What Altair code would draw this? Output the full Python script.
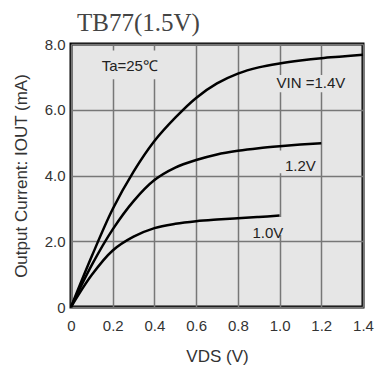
import altair as alt
import pandas as pd

# ---- data ----
vds_14 = [0, 0.1, 0.2, 0.3, 0.4, 0.5, 0.6, 0.7, 0.8, 0.9, 1.0, 1.1, 1.2, 1.3, 1.4]
iout_14 = [0, 1.55, 2.98, 4.12, 5.05, 5.76, 6.36, 6.8, 7.1, 7.29, 7.41, 7.5, 7.57, 7.62, 7.67]

vds_12 = [0, 0.1, 0.2, 0.3, 0.4, 0.5, 0.6, 0.7, 0.8, 0.9, 1.0, 1.1, 1.2]
iout_12 = [0, 1.28, 2.36, 3.22, 3.86, 4.24, 4.47, 4.64, 4.75, 4.83, 4.89, 4.94, 4.98]

vds_10 = [0, 0.1, 0.2, 0.3, 0.4, 0.5, 0.6, 0.7, 0.8, 0.9, 1.0]
iout_10 = [0, 0.98, 1.72, 2.14, 2.4, 2.53, 2.61, 2.66, 2.7, 2.74, 2.78]

x_ticks = [0, 0.2, 0.4, 0.6, 0.8, 1.0, 1.2, 1.4]
y_ticks = [0, 1, 2, 3, 4, 5, 6, 7, 8]

# annotations (data coordinates)
label_text = ["Ta=25℃", "VIN =1.4V", "1.2V", "1.0V"]
label_x = [0.282, 1.15, 1.10, 0.944]
label_y = [7.34, 6.81, 4.29, 2.26]
mask_x = [0.067, 0.937, 0.98, 0.855]
mask_x2 = [0.487, 1.366, 1.19, 1.02]
mask_y = [6.93, 6.53, 4.07, 2.19]
mask_y2 = [7.8, 7.06, 4.76, 2.74]

rows = []
for series, xs, ys in [("1.4V", vds_14, iout_14), ("1.2V", vds_12, iout_12), ("1.0V", vds_10, iout_10)]:
    for a, b in zip(xs, ys):
        rows.append({"series": series, "vds": a, "iout": b})
curves = pd.DataFrame(rows)
labels = pd.DataFrame({"text": label_text, "x": label_x, "y": label_y})
masks = pd.DataFrame({"x": mask_x, "x2": mask_x2, "y": mask_y, "y2": mask_y2})

BG = "#e6e6e6"
xscale = alt.Scale(domain=[0, 1.4], nice=False)
yscale = alt.Scale(domain=[0, 8], nice=False)

xaxis = alt.Axis(
    values=x_ticks, title="VDS (V)", grid=True, gridColor="#777", gridWidth=1.5,
    ticks=False, domain=False, labelFlush=False, labelOverlap=False,
    labelExpr="datum.value == 0 ? '0' : format(datum.value, '.1f')",
    labelFont="Liberation Sans", labelFontSize=15, labelColor="#333", labelPadding=11,
    titleFont="Liberation Sans", titleFontSize=17, titleFontWeight="normal",
    titleColor="#333", titlePadding=15,
)
yaxis = alt.Axis(
    values=y_ticks, title="Output Current: IOUT (mA)", grid=True, gridColor="#777",
    gridWidth=1.5, ticks=False, domain=False, labelFlush=False, labelOverlap=False,
    labelExpr="datum.value % 2 == 0 ? (datum.value == 0 ? '0' : format(datum.value, '.1f')) : ''",
    labelFont="Liberation Sans", labelFontSize=15, labelColor="#333", labelPadding=6,
    titleFont="Liberation Sans", titleFontSize=17, titleFontWeight="normal",
    titleColor="#333", titlePadding=14,
)

lines = alt.Chart(curves).mark_line(color="black", strokeWidth=2.5, interpolate="catmull-rom").encode(
    x=alt.X("vds:Q", scale=xscale, axis=xaxis),
    y=alt.Y("iout:Q", scale=yscale, axis=yaxis),
    detail="series:N",
)

mask = alt.Chart(masks).mark_rect(color=BG).encode(
    x=alt.X("x:Q", scale=xscale), x2="x2:Q",
    y=alt.Y("y:Q", scale=yscale), y2="y2:Q",
)

text = alt.Chart(labels).mark_text(
    font="Liberation Sans", fontSize=15, color="#222", baseline="middle", align="center"
).encode(
    x=alt.X("x:Q", scale=xscale),
    y=alt.Y("y:Q", scale=yscale),
    text="text:N",
)

chart = alt.layer(mask, lines, text).properties(
    width=292, height=263,
    background="white",
    title=alt.TitleParams(
        "TB77(1.5V)", anchor="start", frame="group", font="Liberation Serif",
        fontSize=25, fontWeight="normal", color="#444", dx=6, offset=1,
    ),
    autosize=alt.AutoSizeParams(type="none"),
    padding={"left": 71, "top": 44, "right": 17, "bottom": 63},
).configure_view(
    fill=BG, stroke="black", strokeWidth=3
)

chart.save("out.html", embed_options={"renderer": "svg", "actions": False})
